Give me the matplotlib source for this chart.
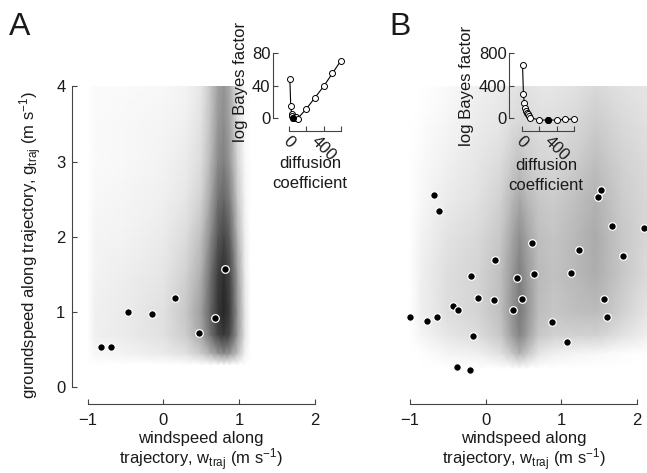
import numpy as np
import matplotlib
matplotlib.use("Agg")
from matplotlib import pyplot as plt

plt.rcParams['font.family'] = ['Liberation Sans', 'DejaVu Sans']
plt.rcParams['mathtext.fontset'] = 'custom'
plt.rcParams['mathtext.rm'] = 'Liberation Sans'
plt.rcParams['mathtext.it'] = 'Liberation Sans:italic'
plt.rcParams['mathtext.bf'] = 'Liberation Sans:bold'

# ---- panel A : scatter points ----
windA = [-0.82, -0.69, -0.47, -0.15, 0.155, 0.47, 0.68, 0.815]
groundA = [0.54, 0.54, 1.00, 0.97, 1.19, 0.72, 0.92, 1.58]

# ---- panel B : scatter points ----
windB = [-1.005, -0.78, -0.64, -0.68, -0.61, -0.43, -0.37, -0.19, -0.17, -0.38,
         -0.20, -0.10, 0.106, 0.13, 0.36, 0.42, 0.485, 0.61, 0.64, 0.88,
         1.07, 1.13, 1.24, 1.48, 1.53, 1.67, 2.09, 1.82, 1.56, 1.60]
groundB = [0.93, 0.88, 0.93, 2.56, 2.34, 1.08, 1.03, 1.48, 0.69, 0.27,
           0.23, 1.19, 1.165, 1.70, 1.03, 1.45, 1.18, 1.92, 1.51, 0.87,
           0.61, 1.52, 1.83, 2.53, 2.62, 2.14, 2.12, 1.75, 1.18, 0.93]

# ---- background density (darkness 0..1) ----
heatA_x = [-1.0, -0.9, -0.5, 0.0, 0.3, 0.5, 0.62, 0.72, 0.8, 0.88, 0.98, 1.08, 1.15]
heatA_y = [0.3, 0.45, 0.7, 1.0, 1.5, 2.0, 2.5, 3.0, 3.5, 4.0]
heatA = [
    [0, 0, 0, 0, 0, 0, 0, 0, 0, 0, 0, 0, 0],
    [0, 0.03, 0.05, 0.08, 0.12, 0.2, 0.3, 0.4, 0.45, 0.4, 0.25, 0.05, 0],
    [0, 0.06, 0.08, 0.12, 0.2, 0.35, 0.55, 0.72, 0.78, 0.7, 0.4, 0.1, 0],
    [0, 0.06, 0.08, 0.12, 0.22, 0.38, 0.6, 0.78, 0.85, 0.75, 0.42, 0.1, 0],
    [0, 0.05, 0.07, 0.1, 0.18, 0.32, 0.55, 0.75, 0.82, 0.72, 0.38, 0.08, 0],
    [0, 0.04, 0.05, 0.08, 0.14, 0.25, 0.45, 0.65, 0.72, 0.62, 0.3, 0.06, 0],
    [0, 0.03, 0.04, 0.06, 0.1, 0.18, 0.35, 0.55, 0.6, 0.5, 0.22, 0.04, 0],
    [0, 0.02, 0.03, 0.05, 0.08, 0.14, 0.28, 0.45, 0.5, 0.4, 0.17, 0.03, 0],
    [0, 0.02, 0.03, 0.04, 0.06, 0.12, 0.24, 0.4, 0.45, 0.36, 0.14, 0.02, 0],
    [0, 0.02, 0.02, 0.03, 0.05, 0.1, 0.22, 0.37, 0.42, 0.33, 0.12, 0.02, 0],
]

heatB_x = [-1.0, -0.85, -0.5, -0.1, 0.2, 0.35, 0.45, 0.55, 0.7, 0.9, 1.2, 1.45, 1.6, 1.8, 2.15]
heatB_y = [0.25, 0.45, 0.7, 1.0, 1.5, 2.0, 2.5, 3.0, 3.5, 4.0]
heatB = [
    [0, 0, 0, 0, 0, 0, 0, 0, 0, 0, 0, 0, 0, 0, 0],
    [0, 0, 0.04, 0.06, 0.12, 0.22, 0.3, 0.22, 0.1, 0.06, 0.04, 0.03, 0.02, 0.01, 0],
    [0, 0.04, 0.1, 0.14, 0.22, 0.38, 0.48, 0.38, 0.22, 0.18, 0.18, 0.18, 0.16, 0.12, 0.06],
    [0, 0.06, 0.13, 0.17, 0.25, 0.42, 0.52, 0.42, 0.26, 0.22, 0.25, 0.26, 0.24, 0.18, 0.1],
    [0, 0.06, 0.13, 0.17, 0.25, 0.4, 0.5, 0.4, 0.27, 0.24, 0.28, 0.32, 0.28, 0.22, 0.14],
    [0, 0.05, 0.11, 0.15, 0.22, 0.35, 0.44, 0.36, 0.25, 0.23, 0.28, 0.33, 0.28, 0.22, 0.15],
    [0, 0.03, 0.08, 0.12, 0.18, 0.28, 0.34, 0.28, 0.22, 0.2, 0.25, 0.3, 0.26, 0.2, 0.15],
    [0, 0.02, 0.06, 0.1, 0.14, 0.2, 0.24, 0.2, 0.17, 0.16, 0.2, 0.25, 0.22, 0.18, 0.14],
    [0, 0.01, 0.04, 0.08, 0.1, 0.14, 0.16, 0.15, 0.13, 0.13, 0.16, 0.2, 0.18, 0.15, 0.12],
    [0, 0, 0.02, 0.06, 0.08, 0.1, 0.12, 0.11, 0.1, 0.1, 0.12, 0.15, 0.14, 0.12, 0.1],
]

# ---- insets: log Bayes factor vs diffusion coefficient ----
diffA = [10, 20, 30, 40, 50, 60, 70, 80, 100, 200, 300, 400, 500, 600]
lbfA = [48, 15, 5, 2, 0, 0, 0.5, 1, -1, 11, 25, 39, 55, 71]
bestA = 50
diffB = [10, 20, 30, 40, 50, 60, 70, 80, 100, 200, 300, 400, 500, 600]
lbfB = [650, 300, 180, 120, 85, 60, 40, 25, 0, -28, -30, -28, -22, -15]
bestB = 300

spine_col = '#444444'
txt_col = '#1a1a1a'
fs = 12

fig = plt.figure(figsize=(6.47, 4.73), dpi=100)
W, H = 647.0, 473.0


def main_axes(left_px):
    ax = fig.add_axes([left_px / W, (H - 404) / H, 254 / W, 317.5 / H])
    ax.set_xlim(-1.21, 2.145)
    ax.set_ylim(-0.22, 4.0)
    ax.patch.set_alpha(0)
    for s in ['top', 'right']:
        ax.spines[s].set_visible(False)
    ax.spines['bottom'].set_bounds(-1, 2)
    ax.spines['left'].set_bounds(0, 4)
    for s in ['bottom', 'left']:
        ax.spines[s].set_color(spine_col)
        ax.spines[s].set_linewidth(0.8)
    ax.set_xticks([-1, 0, 1, 2])
    ax.set_yticks([0, 1, 2, 3, 4])
    ax.tick_params(direction='in', length=3.6, width=0.8, color=spine_col,
                   labelsize=fs, labelcolor=txt_col, pad=4.5)
    ax.tick_params(axis='x', pad=6.5)
    ax.text(0.5, -0.685, 'windspeed along', ha='center', va='center',
            fontsize=fs, color=txt_col, clip_on=False)
    ax.text(0.5, -0.955, r'trajectory, w$_{\mathrm{traj}}$ (m s$^{\mathrm{-1}}$)',
            ha='center', va='center', fontsize=fs, color=txt_col, clip_on=False)
    return ax


def inset_axes(left_px, width_px, xmin, ymin, ymax, yticks, x, y, best):
    ax = fig.add_axes([left_px / W, (H - 131) / H, width_px / W, 77.7 / H])
    ax.patch.set_alpha(0)
    ax.set_xlim(xmin, 600)
    ax.set_ylim(ymin, ymax)
    for s in ['top', 'right']:
        ax.spines[s].set_visible(False)
    ax.spines['bottom'].set_bounds(0, 600)
    ax.spines['left'].set_bounds(0, ymax)
    for s in ['bottom', 'left']:
        ax.spines[s].set_color(spine_col)
        ax.spines[s].set_linewidth(0.8)
    ax.set_xticks([0, 200, 400, 600])
    ax.set_xticklabels(['0', '', '400', ''], rotation=-45, ha='center', va='top')
    ax.set_yticks(yticks)
    ax.tick_params(direction='in', length=3.6, width=0.8, color=spine_col,
                   labelsize=fs, labelcolor=txt_col, pad=2)
    ax.tick_params(axis='x', pad=1.5)
    ax.plot(x, y, color='black', lw=0.8, zorder=2, clip_on=False)
    ax.plot(x, y, 'o', ms=4.3, mfc='white', mec='black', mew=0.7, zorder=3, clip_on=False)
    bi = x.index(best)
    ax.plot([x[bi]], [y[bi]], 'o', ms=4.3, mfc='black', mec='black', mew=0.7,
            zorder=4, clip_on=False)
    return ax


# panel A
axA = main_axes(71.7)
XA, YA = np.meshgrid(heatA_x, heatA_y)
axA.pcolormesh(XA, YA, np.array(heatA), shading='gouraud', cmap='gray_r',
               vmin=0, vmax=1, zorder=0, rasterized=True)
axA.scatter(windA, groundA, s=30, c='black', edgecolors='white', linewidths=0.9, zorder=3)
axA.set_ylabel(r'groundspeed along trajectory, g$_{\mathrm{traj}}$ (m s$^{\mathrm{-1}}$)',
               fontsize=fs, color=txt_col, labelpad=9)

# panel B
axB = main_axes(394.0)
XB, YB = np.meshgrid(heatB_x, heatB_y)
axB.pcolormesh(XB, YB, np.array(heatB), shading='gouraud', cmap='gray_r',
               vmin=0, vmax=1, zorder=0, rasterized=True)
axB.scatter(windB, groundB, s=30, c='black', edgecolors='white', linewidths=0.9,
            zorder=3, clip_on=False)
axB.spines['left'].set_visible(False)
axB.set_yticks([])

# insets
insA = inset_axes(273.3, 67.7, -181, -16.5, 80, [0, 40, 80], diffA, lbfA, bestA)
insB = inset_axes(509.3, 64.7, -142, -165, 800, [0, 400, 800], diffB, lbfB, bestB)

for cx, cy_lab, cx_d, cy_d in [(241, 82, 310, 163), (466, 86, 546, 165)]:
    fig.text(cx / W, 1 - cy_lab / H, 'log Bayes factor', rotation=90, ha='center',
             va='center', fontsize=fs, color=txt_col)
    fig.text(cx_d / W, 1 - cy_d / H, 'diffusion', ha='center', va='center',
             fontsize=fs, color=txt_col)
    fig.text(cx_d / W, 1 - (cy_d + 20) / H, 'coefficient', ha='center', va='center',
             fontsize=fs, color=txt_col)

fig.text(9 / W, 1 - 35 / H, 'A', fontsize=23, color=txt_col, va='baseline')
fig.text(389 / W, 1 - 35 / H, 'B', fontsize=23, color=txt_col, va='baseline')

fig.savefig('out.png', dpi=100)
